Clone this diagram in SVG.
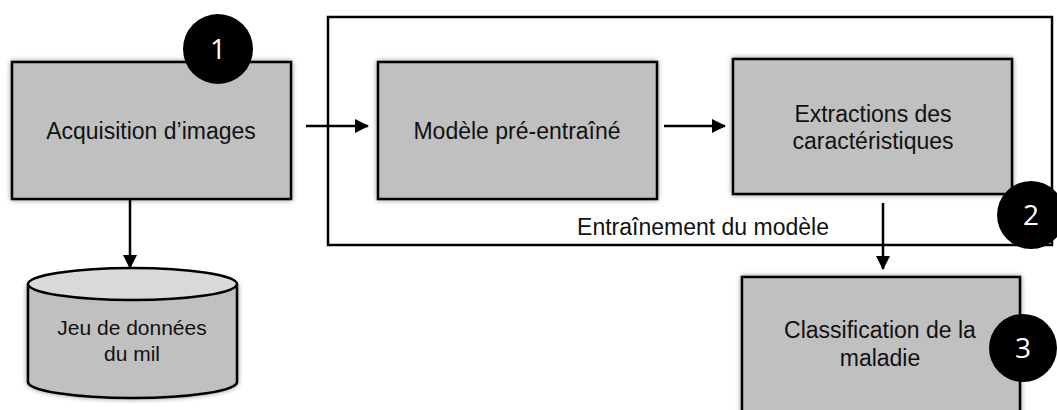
<svg xmlns="http://www.w3.org/2000/svg" width="1057" height="410" viewBox="0 0 1057 410">
<defs>
<filter id="sh" x="-10%" y="-10%" width="120%" height="120%">
<feDropShadow dx="0" dy="0" stdDeviation="2.5" flood-color="#000" flood-opacity="0.45"/>
</filter>
<marker id="ah" markerWidth="10" markerHeight="10" refX="9" refY="5" orient="auto" markerUnits="userSpaceOnUse" viewBox="0 0 10 10">
<path d="M0,0 L10,5 L0,10 Z" fill="#000"/>
</marker>
<marker id="ah2" markerWidth="14" markerHeight="14" refX="13" refY="7" orient="auto" markerUnits="userSpaceOnUse" viewBox="0 0 14 14">
<path d="M0,0 L14,7 L0,14 Z" fill="#000"/>
</marker>
</defs>
<style>
.box{fill:#c0c0c0;stroke:#000;stroke-width:2.5;filter:url(#sh)}
.t{font-family:"Liberation Sans",Arial,sans-serif;font-size:23px;fill:#111;text-anchor:middle}
.ts{font-family:"Liberation Sans",Arial,sans-serif;font-size:21px;fill:#111;text-anchor:middle}
.badge{fill:#000}
.bt{font-family:"Open Sans","Noto Sans",sans-serif;font-size:28px;fill:#fff;text-anchor:middle}
.con{stroke:#000;stroke-width:2.5;fill:none}
</style>
<rect width="1057" height="410" fill="#fff"/>
<g id="training">
<rect x="328" y="17" width="724" height="228" fill="none" stroke="#000" stroke-width="2.5"/>
<text class="t" x="703" y="235">Entraînement du modèle</text>
</g>
<g id="connectors">
<line class="con" x1="130" y1="199" x2="130" y2="268" marker-end="url(#ah2)"/>
<line class="con" x1="306" y1="126" x2="368" y2="126" marker-end="url(#ah2)"/>
<line class="con" x1="664" y1="126" x2="725" y2="126" marker-end="url(#ah2)"/>
<line class="con" x1="883" y1="203" x2="883" y2="269" marker-end="url(#ah2)"/>
</g>
<g id="acquisition">
<rect class="box" x="12" y="62" width="279" height="137"/>
<text class="t" x="151" y="139">Acquisition d’images</text>
</g>
<g id="badge1">
<circle class="badge" cx="218" cy="49" r="35"/>
<text class="bt" x="218" y="59">1</text>
</g>
<g id="modele">
<rect class="box" x="378" y="62" width="279" height="137"/>
<text class="t" x="517" y="139">Modèle pré-entraîné</text>
</g>
<g id="extraction">
<rect class="box" x="733" y="59" width="279" height="135"/>
<text class="t" x="873" y="122">Extractions des</text>
<text class="t" x="873" y="149">caractéristiques</text>
</g>
<g id="badge2">
<circle class="badge" cx="1031" cy="215" r="34"/>
<text class="bt" x="1031" y="225">2</text>
</g>
<g id="dataset">
<path d="M28,284 L28,382 A104.5,16 0 0 0 237,382 L237,284" fill="#c0c0c0" stroke="#000" stroke-width="2.5" filter="url(#sh)"/>
<ellipse cx="132.5" cy="284" rx="104.5" ry="16" fill="#d9d9d9" stroke="#000" stroke-width="2.5"/>
<text class="ts" x="132" y="335">Jeu de données</text>
<text class="ts" x="132" y="361">du mil</text>
</g>
<g id="classification">
<rect class="box" x="742" y="277" width="278" height="140"/>
<text class="t" x="880" y="338">Classification de la</text>
<text class="t" x="880" y="366">maladie</text>
</g>
<g id="badge3">
<circle class="badge" cx="1023" cy="348" r="34"/>
<text class="bt" x="1023" y="358">3</text>
</g>
</svg>
